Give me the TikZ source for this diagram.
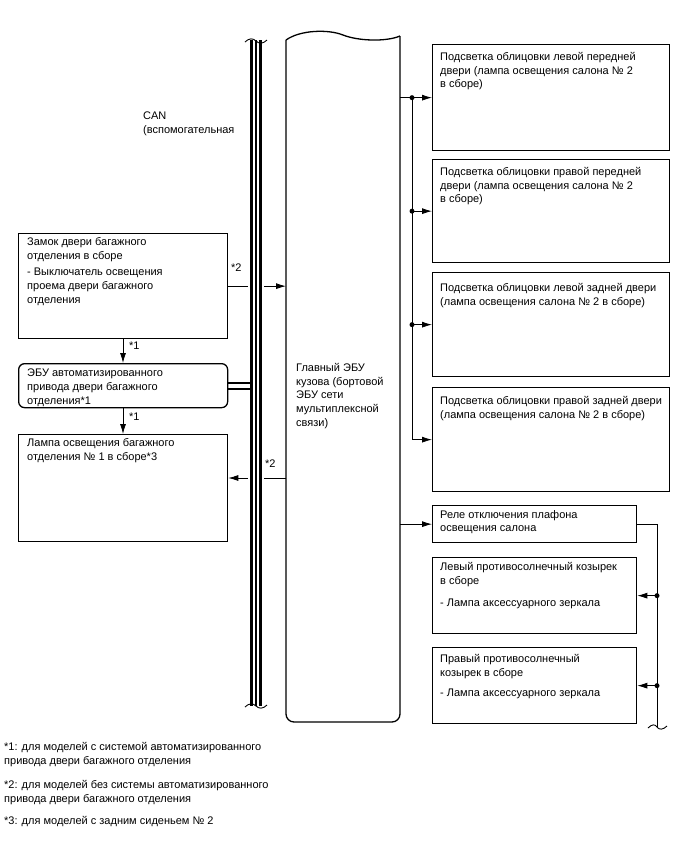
\documentclass[tikz,border=0pt]{standalone}
\usepackage{fontspec}
\setmainfont{Liberation Sans}
\usetikzlibrary{arrows.meta}
\begin{document}
\begin{tikzpicture}[x=1pt,y=-1pt,
  box/.style={draw, line width=1.3pt, inner sep=0pt, anchor=north west},
  lbl/.style={anchor=north west, inner sep=0pt, align=left, font=\fontsize{11}{13.8}\selectfont},
  star/.style={anchor=west, inner sep=0pt, font=\fontsize{11}{12}\selectfont},
  conn/.style={line width=0.8pt},
  arr/.style={conn, -{Latex[length=10pt,width=6pt]}},
  jdot/.style={circle, fill, inner sep=0pt, minimum size=5pt},
  busline/.style={line width=2.2pt},
  wave/.style={line width=0.9pt}]
\useasboundingbox (0,0) rectangle (688,852);

% ---------- right boxes ----------
\node[box, minimum width=237pt, minimum height=106pt] (fl) at (432,44) {};
\node[box, minimum width=237pt, minimum height=103pt] (fr) at (432,159) {};
\node[box, minimum width=237pt, minimum height=104pt] (rl) at (432,272) {};
\node[box, minimum width=237pt, minimum height=104pt] (rr) at (432,387) {};
\node[box, minimum width=204pt, minimum height=37pt] (relay) at (432,505) {};
\node[box, minimum width=204pt, minimum height=76pt] (vl) at (432,557) {};
\node[box, minimum width=204pt, minimum height=76pt] (vr) at (432,647) {};

\node[lbl] (tfl) at (440,52) {Подсветка облицовки левой передней\\двери (лампа освещения салона № 2\\в сборе)};
\node[lbl] (tfr) at (440,167) {Подсветка облицовки правой передней\\двери (лампа освещения салона № 2\\в сборе)};
\node[lbl] (trl) at (440,283) {Подсветка облицовки левой задней двери\\(лампа освещения салона № 2 в сборе)};
\node[lbl] (trr) at (440,396) {Подсветка облицовки правой задней двери\\(лампа освещения салона № 2 в сборе)};
\node[lbl] (trelay) at (440,510) {Реле отключения плафона\\освещения салона};
\node[lbl] (tvl) at (440,562) {Левый противосолнечный козырек\\в сборе\\[9pt]- Лампа аксессуарного зеркала};
\node[lbl] (tvr) at (440,654) {Правый противосолнечный\\козырек в сборе\\[7pt]- Лампа аксессуарного зеркала};

% ---------- left boxes ----------
\node[box, minimum width=209pt, minimum height=105pt] (lock) at (18,233) {};
\node[box, rounded corners=6pt, minimum width=209pt, minimum height=44pt] (pbd) at (18,363) {};
\node[box, minimum width=209pt, minimum height=107pt] (lamp) at (18,434) {};

\node[lbl] (tlock) at (27,237) {Замок двери багажного\\отделения в сборе\\[3pt]- Выключатель освещения\\проема двери багажного\\отделения};
\node[lbl] (tpbd) at (27,369) {ЭБУ автоматизированного\\привода двери багажного\\отделения*1};
\node[lbl] (tlamp) at (27,438) {Лампа освещения багажного\\отделения № 1 в сборе*3};

\node[lbl] (tcan) at (143,112) {CAN\\(вспомогательная};

% ---------- main ECU ----------
\node[inner sep=0pt, outer sep=0pt, anchor=north west, minimum width=114pt, minimum height=685pt] (ecu) at (286,37) {};
\draw[line width=1.3pt, rounded corners=8pt] (286,40) -- (286,722) -- (400,722) -- (400,36);
\draw[line width=1.3pt] (286,40) .. controls (300,30) and (328,29) .. (343,35) .. controls (358,41) and (386,42) .. (400,36);
\node[lbl] (tecu) at (296,363) {Главный ЭБУ\\кузова (бортовой\\ЭБУ сети\\мультиплексной\\связи)};

% ---------- connectors right ----------
\coordinate (jx) at (412,0);
\draw[arr] (ecu.east |- fl.west) -- (fl.west);
\draw[conn] (jx |- fl.west) -- (jx |- rr.west);
\draw[arr] (jx |- rr.west) -- (rr.west);
\draw[arr] (jx |- fr.west) -- (fr.west);
\draw[arr] (jx |- rl.west) -- (rl.west);
\node[jdot] (d1) at (jx |- fl.west) {};
\node[jdot] (d2) at (jx |- fr.west) {};
\node[jdot] (d3) at (jx |- rl.west) {};
\draw[arr] (ecu.east |- relay.west) -- (relay.west);

\coordinate (vx) at (657,0);
\coordinate (vend) at (657,727);
\draw[conn] (relay.east) -- (vx |- relay.east) -- (vend);
\draw[arr] (vx |- vl.east) -- (vl.east);
\draw[arr] (vx |- vr.east) -- (vr.east);
\node[jdot] (d4) at (vx |- vl.east) {};
\node[jdot] (d5) at (vx |- vr.east) {};
\draw[wave] (648,728) .. controls (652,724) and (655,724) .. (657,727) .. controls (659,730) and (663,730) .. (667,726);

% ---------- connectors left ----------
\coordinate (lx) at (123,0);
\draw[arr] (lx |- lock.south) -- (lx |- pbd.north);
\draw[arr] (lx |- pbd.south) -- (lx |- lamp.north);
\node[star] (s1a) at (129,346) {*1};
\node[star] (s1b) at (129,417) {*1};

\draw[arr] (lock.east) -- (ecu.west |- lock.east);
\coordinate (la) at (0,478);
\draw[arr] (ecu.west |- la) -- (lamp.east |- la);
\node[star] (s2a) at (231,268) {*2};
\node[star] (s2b) at (265,464) {*2};

% ---------- CAN bus ----------
\fill[white] (248,40) rectangle (264,706);
\coordinate (b1t) at (251.5,40);
\coordinate (b1b) at (251.5,706);
\coordinate (b2t) at (256,40);
\coordinate (b2b) at (256,706);
\coordinate (b3t) at (260.5,40);
\coordinate (b3b) at (260.5,706);
\draw[busline] (b1t) -- (b1b);
\draw[busline] (b2t) -- (b2b);
\draw[busline] (b3t) -- (b3b);
\draw[busline] ([yshift=-3pt]pbd.east) -- ([yshift=-3pt]b1t |- pbd.east);
\draw[busline] ([yshift=3pt]pbd.east) -- ([yshift=3pt]b1t |- pbd.east);
\draw[wave] (245,42) .. controls (249,38) and (253,38) .. (256,41) .. controls (259,44) and (263,44) .. (267,40);
\draw[wave] (245,707) .. controls (249,703) and (253,703) .. (256,706) .. controls (259,709) and (263,709) .. (267,705);

% ---------- footnotes ----------
\node[lbl] (fn1) at (4,742) {*1: для моделей с системой автоматизированного\\привода двери багажного отделения};
\node[lbl] (fn2) at (4,780) {*2: для моделей без системы автоматизированного\\привода двери багажного отделения};
\node[lbl] (fn3) at (4,816) {*3: для моделей с задним сиденьем № 2};
\end{tikzpicture}
\end{document}
